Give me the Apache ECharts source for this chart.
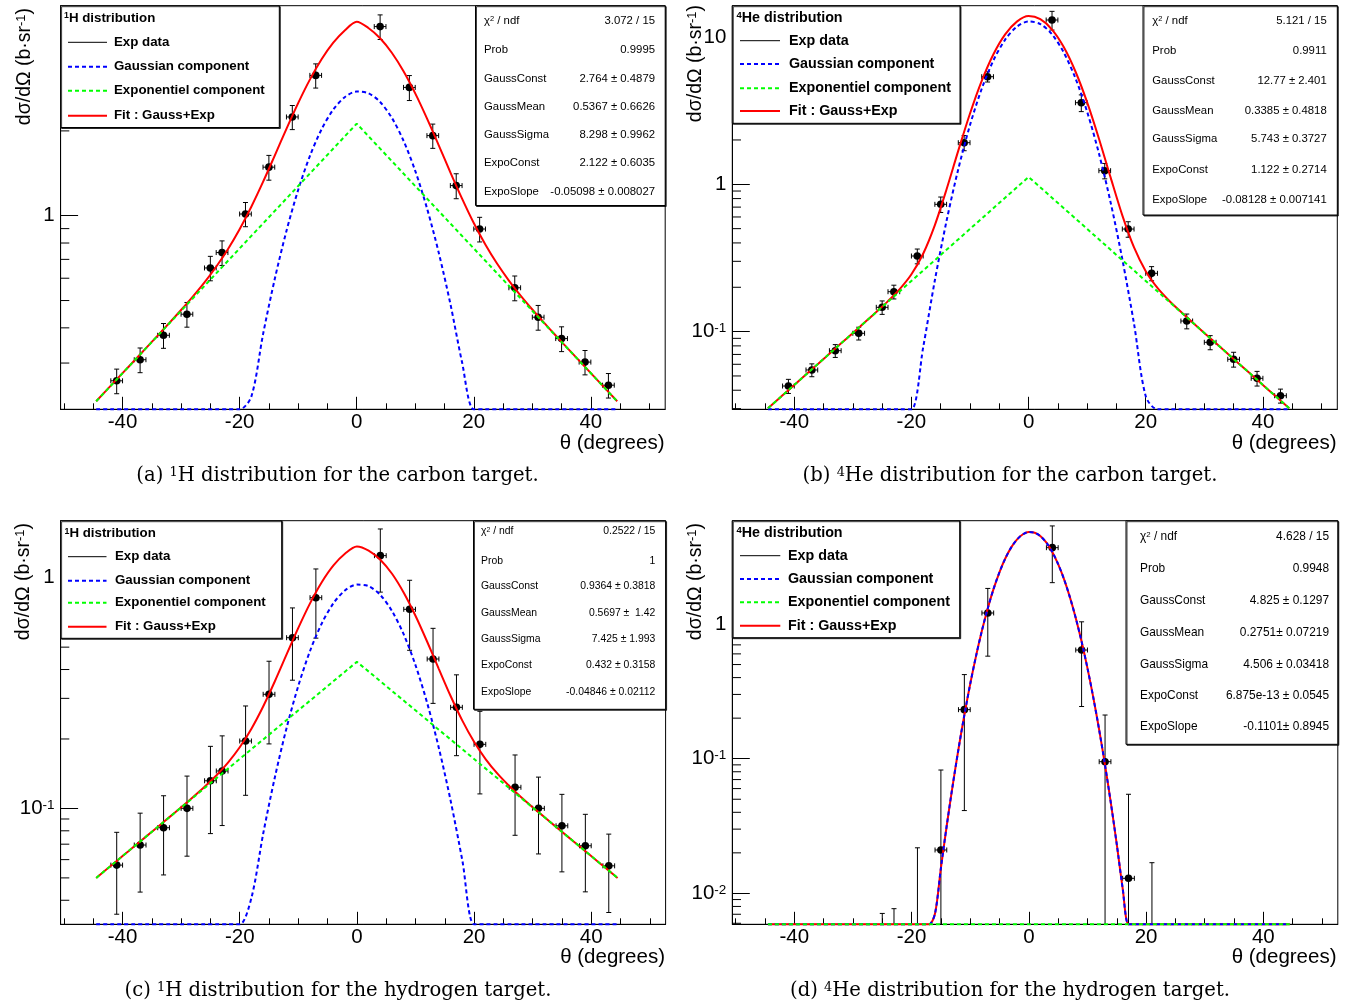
<!DOCTYPE html>
<html><head><meta charset="utf-8">
<script src="https://cdn.jsdelivr.net/npm/echarts@6/dist/echarts.min.js"></script>
<style>html,body{margin:0;padding:0;background:#fff}#c{width:1357px;height:1007px}</style>
</head><body><div id="c"></div>
<script>
// ---------------- data ----------------
const xData = [-41,-37,-33,-29,-25,-23,-19,-15,-11,-7,4,9,13,17,21,27,31,35,39,43];
const xHalfBin = 1;
const aY   = [0.2595,0.3083,0.3764,0.4472,0.6525,0.740,1.014,1.487,2.241,3.148,4.69,2.853,1.924,1.279,0.897,0.555,0.4364,0.3664,0.3024,0.2504];
const aErr = [0.026,0.031,0.038,0.045,0.065,0.074,0.10,0.15,0.22,0.31,0.47,0.29,0.19,0.13,0.09,0.056,0.044,0.037,0.030,0.025];
const bY   = [0.04272,0.0549,0.0742,0.0974,0.1462,0.1866,0.326,0.7314,1.916,5.377,13.04,3.58,1.237,0.497,0.2487,0.118,0.0846,0.0649,0.0482,0.0367];
const bErr = [0.0047,0.0055,0.0074,0.0097,0.0153,0.0200,0.0375,0.088,0.226,0.43,1.89,0.465,0.148,0.060,0.0274,0.0136,0.0093,0.0075,0.0055,0.0040];
const cY   = [0.0568,0.0694,0.0825,0.1001,0.1318,0.1453,0.1960,0.3124,0.5495,0.819,1.246,0.7295,0.4443,0.2743,0.1896,0.1235,0.1001,0.0841,0.0689,0.0564];
const cErr = [0.022,0.026,0.031,0.038,0.054,0.061,0.082,0.122,0.19,0.272,0.38,0.245,0.159,0.105,0.074,0.047,0.0366,0.031,0.0254,0.021];
const dY   = [0,0,0,0,0,0,0,0.0210,0.2312,1.207,3.687,0.641,0.0950,0.01294,0,0,0,0,0,0];
const dErr = [0,0,0,0,0.0071,0.0077,0.0218,0.0614,0.19,0.63,1.66,0.397,0.116,0.0415,0.0169,0,0,0,0,0];

const xFit = [-44.5,-42,-40,-38,-36,-34,-32,-30,-28,-26,-24,-22,-20,-18,-16,-14,-12,-10,-8,-6,-4,-2,0,2,4,6,8,10,12,14,16,18,20,22,24,26,28,30,32,34,36,38,40,42,44.5];
const aFit = [0.2195,0.2494,0.2762,0.3058,0.3388,0.3754,0.4165,0.4629,0.5166,0.5804,0.6592,0.7604,0.8948,1.076,1.318,1.635,2.034,2.509,3.040,3.589,4.111,4.554,4.880,4.638,4.264,3.788,3.256,2.717,2.215,1.781,1.426,1.150,0.9420,0.7887,0.6750,0.5887,0.5207,0.4648,0.4173,0.3758,0.3389,0.3059,0.2762,0.2494,0.2195];
const aGauss = [1.11e-6,5.44e-6,1.82e-5,5.73e-5,1.70e-4,4.79e-4,0.001268,0.003168,0.007472,0.01663,0.03491,0.06915,0.1293,0.2280,0.3794,0.5958,0.8829,1.234,1.628,2.027,2.380,2.638,2.758,2.721,2.533,2.225,1.845,1.443,1.064,0.7412,0.4869,0.3019,0.1766,0.09744,0.05075,0.02493,0.01156,0.005058,0.002088,8.13e-4,2.99e-4,1.04e-4,3.39e-5,1.05e-5,2.22e-6];
const bFit = [0.03014,0.03693,0.04345,0.05112,0.06015,0.07076,0.08326,0.09796,0.1153,0.1359,0.1611,0.1943,0.2449,0.3378,0.5288,0.9253,1.693,3.024,5.036,7.634,10.41,12.71,13.87,13.20,11.23,8.544,5.830,3.600,2.048,1.114,0.6156,0.3726,0.2572,0.1981,0.1621,0.1362,0.1154,0.09797,0.08326,0.07076,0.06015,0.05112,0.04345,0.03693,0.03014];
const bGauss = [7.40e-13,2.02e-11,2.47e-10,2.69e-9,2.58e-8,2.20e-7,1.66e-6,1.11e-5,6.59e-5,3.46e-4,0.001608,0.006619,0.02414,0.07799,0.2232,0.5657,1.270,2.526,4.451,6.945,9.600,11.75,12.75,12.25,10.42,7.855,5.245,3.102,1.625,0.7541,0.3100,0.1129,0.03640,0.01040,0.002631,5.90e-4,1.17e-4,2.06e-5,3.21e-6,4.43e-7,5.41e-8,5.86e-9,5.62e-10,4.77e-11,1.85e-12];
const cFit = [0.05000,0.05644,0.06218,0.06851,0.07548,0.08318,0.09169,0.1011,0.1118,0.1241,0.1389,0.1580,0.1841,0.2216,0.2766,0.3558,0.4649,0.6060,0.7742,0.9561,1.131,1.274,1.366,1.311,1.197,1.040,0.8607,0.6841,0.5278,0.4016,0.3070,0.2401,0.1944,0.1633,0.1415,0.1252,0.1122,0.1013,0.09175,0.08320,0.07549,0.06851,0.06218,0.05644,0.05000];
const cGauss = [9.35e-9,6.82e-8,3.08e-7,1.29e-6,5.06e-6,1.84e-5,6.21e-5,1.95e-4,5.71e-4,0.001552,0.003924,0.009227,0.02018,0.04104,0.07763,0.1366,0.2234,0.3400,0.4811,0.6331,0.7748,0.8820,0.9336,0.9192,0.8416,0.7167,0.5675,0.4180,0.2863,0.1824,0.1081,0.05954,0.03051,0.01454,0.006444,0.002656,0.001018,3.63e-4,1.20e-4,3.71e-5,1.06e-5,2.84e-6,7.04e-7,1.62e-7,2.34e-8];
const xFitD = [-44.5,-18,-17,-16,-15,-14,-13,-12,-11,-10,-9,-8,-7,-6,-5,-4,-3,-2,-1,0,1,2,3,4,5,6,7,8,9,10,11,12,13,14,15,16,17,18,44.5];
const dGauss = [1.75e-21,0.001293,0.003104,0.007090,0.01542,0.03192,0.06292,0.1180,0.2108,0.3584,0.5800,0.8936,1.311,1.830,2.432,3.076,3.705,4.248,4.636,4.816,4.763,4.484,4.019,3.429,2.784,2.153,1.584,1.110,0.7402,0.4700,0.2840,0.1634,0.08949,0.04665,0.02315,0.01094,0.004920,0.002106,5.84e-21];
const dFit   = [1.75e-21,0.001293,0.003104,0.007090,0.01542,0.03192,0.06292,0.1180,0.2108,0.3584,0.5800,0.8936,1.311,1.830,2.432,3.076,3.705,4.248,4.636,4.816,4.763,4.484,4.019,3.429,2.784,2.153,1.584,1.110,0.7402,0.4700,0.2840,0.1634,0.08949,0.04665,0.02315,0.01094,0.004920,0.002106,5.84e-21];
const xExpo = [-44.5, 0, 44.5];
const aExpo = [0.2195, 2.122, 0.2195];
const bExpo = [0.03014, 1.122, 0.03014];
const cExpo = [0.05000, 0.432, 0.05000];
const dExpo = [5.12e-15, 6.875e-13, 5.12e-15];

const xMajorTicks = [-40,-20,0,20,40];
const xMinorTicks = [-50,-45,-40,-35,-30,-25,-20,-15,-10,-5,0,5,10,15,20,25,30,35,40,45,50];
const aMinorY = [0.3,0.4,0.5,0.6,0.7,0.8,0.9,2,3,4,5];
const bMinorY = [0.03,0.04,0.05,0.06,0.07,0.08,0.09,0.2,0.3,0.4,0.5,0.6,0.7,0.8,0.9,2,3,4,5,6,7,8,9];
const cMinorY = [0.04,0.05,0.06,0.07,0.08,0.09,0.2,0.3,0.4,0.5,0.6,0.7,0.8,0.9];
const dMinorY = [0.006,0.007,0.008,0.009,0.02,0.03,0.04,0.05,0.06,0.07,0.08,0.09,0.2,0.3,0.4,0.5,0.6,0.7,0.8,0.9,2,3,4,5];

const statNames = ['χ² / ndf','Prob','GaussConst','GaussMean','GaussSigma','ExpoConst','ExpoSlope'];
const aStats = ['3.072 / 15','0.9995','2.764 ± 0.4879','0.5367 ± 0.6626','8.298 ± 0.9962','2.122 ± 0.6035','-0.05098 ± 0.008027'];
const bStats = ['5.121 / 15','0.9911','12.77 ± 2.401','0.3385 ± 0.4818','5.743 ± 0.3727','1.122 ± 0.2714','-0.08128 ± 0.007141'];
const cStats = ['0.2522 / 15','1','0.9364 ± 0.3818','0.5697 ±  1.42','7.425 ± 1.993','0.432 ± 0.3158','-0.04846 ± 0.02112'];
const dStats = ['4.628 / 15','0.9948','4.825 ± 0.1297','0.2751± 0.07219','4.506 ± 0.03418','6.875e-13 ± 0.0545','-0.1101± 0.8945'];
const legendNames = ['Exp data','Gaussian component','Exponentiel component','Fit : Gauss+Exp'];

// ---------------- layout / style ----------------
const FONT = '"Liberation Sans", Arial, Helvetica, sans-serif';
const SERIF = '"DejaVu Serif", "Liberation Serif", serif';
const X_MIN = -50.58, X_MAX = 52.7;
const panels = [
  {left:60.6, top:5.7, width:604.6, height:403.6, yMin:0.2056, yMax:5.563,
   Y:aY, E:aErr, fit:aFit, gauss:aGauss, xf:xFit, expo:aExpo, minor:aMinorY, stats:aStats,
   leg:{x0:60.6,y0:5.7,x1:279.3,y1:127.5,hx:64,hy:18,lx0:68,lx1:107,tx:114,rows:[42.3,66.8,90.8,115.8],fs:13.3,sup:'1',head:'H distribution'},
   st:{x0:475.5,y0:5.7,x1:665.2,y1:205.5,lx:484,vx:655,rows:[20.7,50,78.5,107,135,163.3,192.3],fs:11.35},
   yt:{x:25,y:8}, xt:{x:664.5,y:443.5}, cap:{x:337.5,y:476,pre:'(a) ',sup:'1',rest:'H distribution for the carbon target.'}},
  {left:732.3, top:5.7, width:605, height:403.6, yMin:0.02969, yMax:16.31,
   Y:bY, E:bErr, fit:bFit, gauss:bGauss, xf:xFit, expo:bExpo, minor:bMinorY, stats:bStats,
   leg:{x0:732.3,y0:5.7,x1:960,y1:123.3,hx:736.5,hy:18,lx0:740,lx1:780,tx:789,rows:[40.7,64,88.3,111],fs:14.3,sup:'4',head:'He distribution'},
   st:{x0:1143,y0:5.7,x1:1337.3,y1:215,lx:1152.3,vx:1326.7,rows:[20.7,51,81,111,139.3,170,200.3],fs:11.35},
   yt:{x:696,y:5}, xt:{x:1336.5,y:443.5}, cap:{x:1010,y:476,pre:'(b) ',sup:'4',rest:'He distribution for the carbon target.'}},
  {left:60.6, top:520.7, width:605, height:403.6, yMin:0.03147, yMax:1.766,
   Y:cY, E:cErr, fit:cFit, gauss:cGauss, xf:xFit, expo:cExpo, minor:cMinorY, stats:cStats,
   leg:{x0:60.6,y0:520.7,x1:281.7,y1:638.3,hx:64.5,hy:533.3,lx0:68,lx1:106.5,tx:115,rows:[556.7,580.7,602.7,626.7],fs:13.3,sup:'1',head:'H distribution'},
   st:{x0:473.5,y0:520.7,x1:665.6,y1:709.3,lx:481,vx:655.3,rows:[531.5,561,586,612.7,639.3,665,691.7],fs:10.4},
   yt:{x:24,y:523}, xt:{x:665,y:957.5}, cap:{x:338,y:991,pre:'(c) ',sup:'1',rest:'H distribution for the hydrogen target.'}},
  {left:732.3, top:520.7, width:605.5, height:403.6, yMin:0.005896, yMax:5.847,
   Y:dY, E:dErr, fit:dFit, gauss:dGauss, xf:xFitD, expo:dExpo, minor:dMinorY, stats:dStats,
   leg:{x0:732.3,y0:520.7,x1:959.7,y1:637.7,hx:736.5,hy:533.3,lx0:740,lx1:780.3,tx:788,rows:[555.7,579,602.3,625.7],fs:14.3,sup:'4',head:'He distribution'},
   st:{x0:1126,y0:520.7,x1:1337.8,y1:744.3,lx:1140,vx:1329,rows:[536.7,568.3,601,632.7,664.7,695.3,727],fs:11.9},
   yt:{x:696,y:523}, xt:{x:1336.5,y:957.5}, cap:{x:1010,y:991,pre:'(d) ',sup:'4',rest:'He distribution for the hydrogen target.'}}
];
const RED='#ff0000', BLUE='#0000ff', GREEN='#00ff00';
const DASH=[4,3];

// superscript rich style: small line box at the top of the line raises the glyphs
function supStyle(baseSize, family, bold){
  return {fontSize:baseSize*0.66, fontFamily:family, fontWeight:bold?'bold':'normal', fill:'#000', color:'#000',
          verticalAlign:'top', lineHeight:baseSize*0.4};
}
function supFmt(v){
  const e = Math.round(Math.log10(v));
  if (e === 0) return '1';
  if (e === 1) return '10';
  return '10{s|' + e + '}';
}

const grids=[], xAxes=[], yAxes=[], series=[], gfx=[];
panels.forEach((p,i)=>{
  grids.push({left:p.left, top:p.top, width:p.width, height:p.height, show:true, borderColor:'#000', borderWidth:1, backgroundColor:'rgba(0,0,0,0)'});
  const axLine = {color:'#000', width:1};
  xAxes.push({type:'value', gridIndex:i, min:X_MIN, max:X_MAX, position:'bottom',
    axisLine:{show:true, onZero:false, lineStyle:axLine},
    axisTick:{show:true, inside:true, length:12.5, customValues:xMajorTicks, lineStyle:axLine},
    axisLabel:{show:true, customValues:xMajorTicks, margin:3, fontSize:20.5, fontFamily:FONT, color:'#000'},
    splitLine:{show:false}});
  xAxes.push({type:'value', gridIndex:i, min:X_MIN, max:X_MAX, position:'bottom',
    axisLine:{show:false, onZero:false},
    axisTick:{show:true, inside:true, length:6, customValues:xMinorTicks, lineStyle:axLine},
    axisLabel:{show:false}, splitLine:{show:false}});
  yAxes.push({type:'log', logBase:10, gridIndex:i, min:p.yMin, max:p.yMax, position:'left',
    axisLine:{show:true, onZero:false, lineStyle:axLine},
    axisTick:{show:true, inside:true, length:17.5, lineStyle:axLine},
    minorTick:{show:false}, splitLine:{show:false},
    axisLabel:{show:true, margin:6, fontSize:20.5, fontFamily:FONT, color:'#000', showMinLabel:false, showMaxLabel:false,
      formatter:supFmt, rich:{s:{fontSize:13.5, fontFamily:FONT, color:'#000', verticalAlign:'top', lineHeight:8}}}});

  const xi = i*2;
  // data points with error bars
  series.push({type:'custom', name:'Exp data', xAxisIndex:xi, yAxisIndex:i, z:2, clip:false, silent:true,
    data: xData.map((x,j)=>[x, Math.max(p.Y[j], p.yMin)]),
    renderItem:(params, api)=>{
      const j = params.dataIndex, x = xData[j], y = p.Y[j], e = p.E[j];
      const st = {stroke:'#000', lineWidth:1};
      const ch = [];
      if (e > 0) {
        const t = api.coord([x, y + e]);
        const lowV = y - e;
        const b = api.coord([x, lowV > p.yMin ? lowV : p.yMin]);
        ch.push({type:'line', shape:{x1:t[0], y1:t[1], x2:b[0], y2:b[1]}, style:st});
        ch.push({type:'line', shape:{x1:t[0]-2.5, y1:t[1], x2:t[0]+2.5, y2:t[1]}, style:st});
        if (lowV > p.yMin) ch.push({type:'line', shape:{x1:b[0]-2.5, y1:b[1], x2:b[0]+2.5, y2:b[1]}, style:st});
      }
      if (y > 0) {
        const c = api.coord([x, y]), l = api.coord([x - xHalfBin, y]), r = api.coord([x + xHalfBin, y]);
        ch.push({type:'line', shape:{x1:l[0], y1:l[1], x2:r[0], y2:r[1]}, style:st});
        ch.push({type:'line', shape:{x1:l[0], y1:l[1]-2.5, x2:l[0], y2:l[1]+2.5}, style:st});
        ch.push({type:'line', shape:{x1:r[0], y1:r[1]-2.5, x2:r[0], y2:r[1]+2.5}, style:st});
        ch.push({type:'circle', shape:{cx:c[0], cy:c[1], r:3.8}, style:{fill:'#000'}});
      }
      return {type:'group', children:ch};
    }});
  series.push({type:'line', name:'Fit : Gauss+Exp', xAxisIndex:xi, yAxisIndex:i, z:3, clip:false, silent:true,
    symbol:'none', smooth:0.3, lineStyle:{color:RED, width:2}, itemStyle:{color:RED},
    data: p.xf.map((x,j)=>[x, Math.max(p.fit[j], p.yMin)])});
  series.push({type:'line', name:'Gaussian component', xAxisIndex:xi, yAxisIndex:i, z:4, clip:false, silent:true,
    symbol:'none', smooth:0.3, lineStyle:{color:BLUE, width:2, type:DASH}, itemStyle:{color:BLUE},
    data: p.xf.map((x,j)=>[x, Math.max(p.gauss[j], p.yMin)])});
  series.push({type:'line', name:'Exponentiel component', xAxisIndex:xi, yAxisIndex:i, z:5, clip:false, silent:true,
    symbol:'none', smooth:false, lineStyle:{color:GREEN, width:2, type:DASH}, itemStyle:{color:GREEN},
    data: xExpo.map((x,j)=>[x, Math.max(p.expo[j], p.yMin)])});
  // log minor ticks on the y axis
  series.push({type:'custom', xAxisIndex:xi, yAxisIndex:i, z:1, clip:false, silent:true,
    data: p.minor.map(v=>[X_MIN, v]),
    renderItem:(params, api)=>{
      const pt = api.coord([X_MIN, api.value(1)]);
      return {type:'line', shape:{x1:pt[0], y1:pt[1], x2:pt[0]+8.7, y2:pt[1]}, style:{stroke:'#000', lineWidth:1}};
    }});

  // ---- graphic: legend box ----
  const L = p.leg;
  gfx.push({type:'rect', z:100, shape:{x:L.x0, y:L.y0, width:L.x1-L.x0, height:L.y1-L.y0},
    style:{fill:'#fff', stroke:'#000', lineWidth:1, shadowColor:'rgba(0,0,0,0.75)', shadowOffsetX:1, shadowOffsetY:1}});
  gfx.push({type:'text', z:101, style:{x:L.hx, y:L.hy, text:'{s|'+L.sup+'}{b|'+L.head+'}', align:'left', verticalAlign:'middle',
    rich:{s:supStyle(L.fs, FONT, true), b:{fontSize:L.fs, fontWeight:'bold', fontFamily:FONT, fill:'#000'}}}});
  const sampleStyles = [
    {stroke:'#000', lineWidth:1},
    {stroke:BLUE, lineWidth:2, lineDash:DASH},
    {stroke:GREEN, lineWidth:2, lineDash:DASH},
    {stroke:RED, lineWidth:2}
  ];
  legendNames.forEach((nm,k)=>{
    gfx.push({type:'line', z:101, shape:{x1:L.lx0, y1:L.rows[k], x2:L.lx1, y2:L.rows[k]}, style:sampleStyles[k]});
    gfx.push({type:'text', z:101, style:{x:L.tx, y:L.rows[k], text:nm, align:'left', verticalAlign:'middle', fontSize:L.fs, fontWeight:'bold', fontFamily:FONT, fill:'#000'}});
  });
  // ---- graphic: stats box ----
  const S = p.st;
  gfx.push({type:'rect', z:100, shape:{x:S.x0, y:S.y0, width:S.x1-S.x0, height:S.y1-S.y0},
    style:{fill:'#fff', stroke:'#000', lineWidth:1, shadowColor:'rgba(0,0,0,0.75)', shadowOffsetX:1, shadowOffsetY:1}});
  statNames.forEach((nm,k)=>{
    const txt = k===0 ? '{n|χ}{s|2}{n| / ndf}' : '{n|'+nm+'}';
    gfx.push({type:'text', z:101, style:{x:S.lx, y:S.rows[k], text:txt, align:'left', verticalAlign:'middle',
      rich:{n:{fontSize:S.fs, fontFamily:FONT, fill:'#000'}, s:supStyle(S.fs, FONT, false)}}});
    gfx.push({type:'text', z:101, style:{x:S.vx, y:S.rows[k], text:p.stats[k], align:'right', verticalAlign:'middle', fontSize:S.fs, fontFamily:FONT, fill:'#000'}});
  });
  // ---- axis titles ----
  gfx.push({type:'text', z:50, x:p.yt.x, y:p.yt.y, rotation:Math.PI/2,
    style:{x:0, y:0, text:'{n|dσ/dΩ (b·sr}{s|-1}{n|)}', align:'right', verticalAlign:'middle',
      rich:{n:{fontSize:19.5, fontFamily:FONT, fill:'#000'}, s:supStyle(19.5, FONT, false)}}});
  gfx.push({type:'text', z:50, style:{x:p.xt.x, y:p.xt.y, text:'θ (degrees)', align:'right', verticalAlign:'middle', fontSize:20.5, fontFamily:FONT, fill:'#000'}});
  // ---- caption ----
  gfx.push({type:'text', z:50, style:{x:p.cap.x, y:p.cap.y, text:'{n|'+p.cap.pre+'}{s|'+p.cap.sup+'}{n|'+p.cap.rest+'}', align:'center', verticalAlign:'middle',
    rich:{n:{fontSize:19.6, fontFamily:SERIF, fill:'#000'}, s:supStyle(19.6, SERIF, false)}}});
});

const chart = echarts.init(document.getElementById('c'), null, {renderer:'canvas'});
chart.setOption({
  animation:false, backgroundColor:'#fff',
  grid:grids, xAxis:xAxes, yAxis:yAxes, series:series,
  graphic:{elements:gfx}
});
</script></body></html>
